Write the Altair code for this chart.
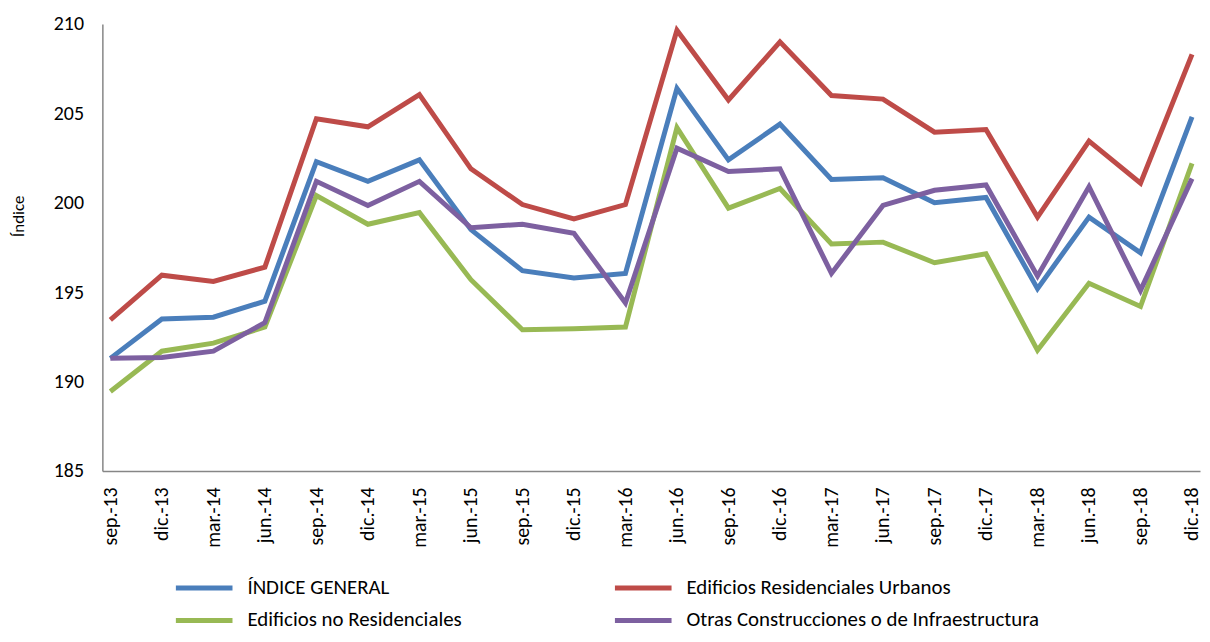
import altair as alt
import pandas as pd

periods = ["sep.-13", "dic.-13", "mar.-14", "jun.-14", "sep.-14", "dic.-14", "mar.-15",
           "jun.-15", "sep.-15", "dic.-15", "mar.-16", "jun.-16", "sep.-16", "dic.-16",
           "mar.-17", "jun.-17", "sep.-17", "dic.-17", "mar.-18", "jun.-18", "sep.-18", "dic.-18"]

name_general = "ÍNDICE GENERAL"
name_resid = "Edificios Residenciales Urbanos"
name_nores = "Edificios no Residenciales"
name_otras = "Otras Construcciones o de Infraestructura"

# legend is laid out column by column: column 1 = general, no residenciales
series_names = [name_general, name_nores, name_resid, name_otras]
series_colors = ["#4A7EBB", "#98B954", "#BE4B48", "#7D60A0"]

indice_general = [191.3, 193.5, 193.6, 194.5, 202.3, 201.2, 202.4, 198.5, 196.2, 195.8, 196.05,
                  206.4, 202.4, 204.4, 201.3, 201.4, 200.0, 200.3, 195.2, 199.2, 197.2, 204.8]
residenciales = [193.45, 195.95, 195.6, 196.4, 204.7, 204.25, 206.05, 201.9, 199.9, 199.1, 199.9,
                 209.65, 205.75, 209.0, 206.0, 205.8, 203.95, 204.1, 199.2, 203.45, 201.1, 208.3]
no_residenciales = [189.45, 191.7, 192.15, 193.05, 200.4, 198.8, 199.45, 195.7, 192.9, 192.95, 193.05,
                    204.2, 199.7, 200.8, 197.7, 197.8, 196.65, 197.15, 191.75, 195.5, 194.2, 202.2]
otras = [191.3, 191.35, 191.7, 193.3, 201.2, 199.85, 201.2, 198.6, 198.8, 198.3, 194.4,
         203.05, 201.75, 201.9, 196.05, 199.85, 200.7, 201.0, 195.9, 200.9, 195.1, 201.35]

series_data = [(name_general, indice_general), (name_resid, residenciales),
               (name_nores, no_residenciales), (name_otras, otras)]
rows = []
for name, vals in series_data:
    for p, v in zip(periods, vals):
        rows.append({"periodo": p, "serie": name, "valor": v})
df = pd.DataFrame(rows)

FONT = "Carlito, Lato, Liberation Sans"

chart = alt.Chart(df).mark_line(strokeWidth=5).encode(
    x=alt.X("periodo:N", sort=periods, title=None,
            scale=alt.Scale(type="point", padding=0.155),
            axis=alt.Axis(labelAngle=-90, ticks=False, labelPadding=16, labelFontSize=20,
                          labelFont=FONT, labelColor="#000000", domainColor="#868686",
                          domainWidth=1.5, grid=False)),
    y=alt.Y("valor:Q", title="Índice",
            scale=alt.Scale(domain=[185, 210], nice=False, zero=False),
            axis=alt.Axis(values=[185, 190, 195, 200, 205, 210], ticks=False, labelPadding=19,
                          labelFontSize=20, labelFont=FONT, labelColor="#000000",
                          domainColor="#868686", domainWidth=1.5, grid=False,
                          titleFont=FONT, titleFontSize=17, titleFontWeight="normal",
                          titleColor="#000000", titleAngle=-90, titleX=-84, titleY=193,
                          titleAlign="center", titleBaseline="middle")),
    color=alt.Color("serie:N", sort=series_names,
                    scale=alt.Scale(domain=series_names, range=series_colors),
                    legend=alt.Legend(title=None, orient="none", legendX=92, legendY=557,
                                      columns=2, columnPadding=144, rowPadding=11,
                                      symbolType="M-5.7,0H5.7", symbolSize=100,
                                      symbolStrokeWidth=5, labelOffset=33,
                                      labelFont=FONT, labelFontSize=21, labelColor="#000000",
                                      labelLimit=600)),
).properties(
    width=1105, height=450,
    autosize=alt.AutoSizeParams(type="none"),
    padding={"left": 95, "top": 14, "right": 2, "bottom": 162},
).configure_view(stroke=None)

chart.save("out.html", embed_options={"renderer": "svg", "actions": False})
